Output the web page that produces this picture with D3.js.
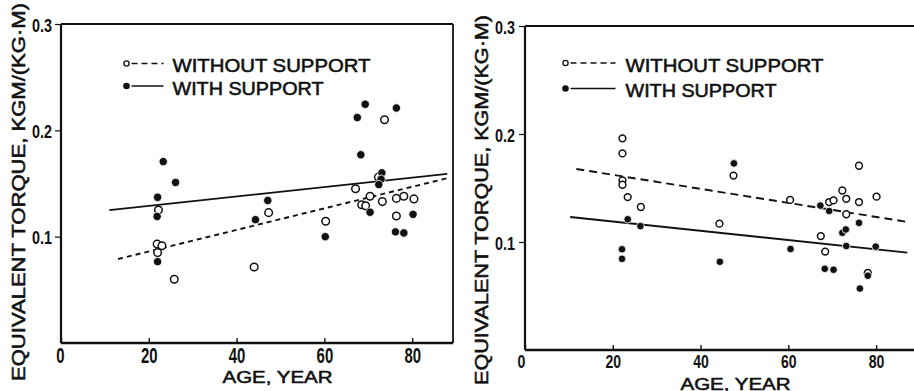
<!DOCTYPE html>
<html>
<head>
<meta charset="utf-8">
<script src="https://cdn.jsdelivr.net/npm/d3@7/dist/d3.min.js"></script>
<style>
  html, body { margin: 0; padding: 0; background: #fff; }
  svg { display: block; }
</style>
</head>
<body>
<svg id="chart" width="914" height="391"></svg>
<script>
// Equivalent torque vs. age, with and without support (two panels)

// Panel A
const leftWithoutSupport = [
  [22.2, 0.125], [21.9, 0.093], [23.0, 0.0915], [22.0, 0.085], [25.8, 0.060],
  [47.3, 0.1226], [44.0, 0.0715], [60.3, 0.1145], [67.1, 0.145], [70.4, 0.138],
  [68.5, 0.130], [69.4, 0.129], [73.2, 0.133], [72.3, 0.156], [73.7, 0.210],
  [76.4, 0.136], [78.1, 0.138], [80.4, 0.1355], [76.4, 0.1195]
];
const leftWithSupport = [
  [22.0, 0.137], [21.9, 0.119], [22.0, 0.0765], [23.3, 0.1706], [26.1, 0.151],
  [47.1, 0.134], [44.3, 0.116], [60.2, 0.100], [67.5, 0.212], [69.3, 0.2245],
  [76.4, 0.221], [68.3, 0.177], [73.1, 0.160], [72.9, 0.154], [72.4, 0.149],
  [70.4, 0.123], [76.2, 0.1045], [78.1, 0.1035], [80.2, 0.121]
];
const leftFitWithout = [[13, 0.079], [88, 0.155]];
const leftFitWith = [[11, 0.125], [88, 0.159]];

// Panel B
const rightWithoutSupport = [
  [22.2, 0.196], [22.2, 0.182], [22.2, 0.157], [22.2, 0.153], [23.4, 0.1416],
  [26.4, 0.1324], [47.5, 0.1615], [44.3, 0.117], [60.4, 0.139], [69.3, 0.137],
  [70.3, 0.1385], [72.3, 0.1477], [73.2, 0.140], [76.1, 0.137], [80.1, 0.142],
  [76.1, 0.1706], [73.2, 0.1257], [67.4, 0.1055], [68.4, 0.0911], [78.1, 0.0713]
];
const rightWithSupport = [
  [23.4, 0.121], [26.3, 0.1147], [22.1, 0.0933], [22.1, 0.0844], [47.6, 0.1728],
  [44.4, 0.0817], [60.5, 0.0935], [67.3, 0.1337], [69.3, 0.1287], [76.1, 0.1177],
  [72.3, 0.1085], [73.1, 0.1116], [73.2, 0.0963], [79.9, 0.0957], [68.3, 0.0752],
  [70.3, 0.0743], [78.1, 0.0688], [76.3, 0.0569]
];
const rightFitWithout = [[11.7, 0.1676], [87.1, 0.1186]];
const rightFitWith = [[10.3, 0.1232], [87.1, 0.0902]];

const xTicks = [0, 20, 40, 60, 80];
const yTicks = [0.1, 0.2, 0.3];
const legendLabels = ["WITHOUT SUPPORT", "WITH SUPPORT"];
const xTitle = "AGE, YEAR";
const yTitle = "EQUIVALENT TORQUE, KGM/(KG\u00B7M)";

const INK = "#111";
const SANS = "'Liberation Sans', Arial, sans-serif";

const svg = d3.select("#chart");

// heavy-ish lettering
function ink(sel, size, weight, bold) {
  sel.style("font-family", SANS).style("font-size", size + "px")
    .style("font-weight", bold ? "bold" : "normal")
    .style("fill", INK).style("stroke", INK).style("stroke-width", weight)
    .style("paint-order", "stroke");
  return sel;
}

function drawPanel(o) {
  const g = svg.append("g");
  const x = d3.scaleLinear().domain([0, o.xMax]).range([o.left, o.right]);
  const y = d3.scaleLinear().domain([0, 0.3]).range([o.bottom, o.top]);
  const xEnd = Math.min(o.right, 914);

  // frame
  g.append("line").attr("x1", o.left).attr("x2", xEnd).attr("y1", o.top).attr("y2", o.top)
    .attr("stroke", INK).attr("stroke-width", 2);
  if (o.closed) {
    g.append("line").attr("x1", o.right).attr("x2", o.right).attr("y1", o.top).attr("y2", o.bottom)
      .attr("stroke", INK).attr("stroke-width", 1.8);
  }

  // x axis (ticks point inward)
  const xa = g.append("g").attr("transform", `translate(0,${o.bottom})`)
    .call(d3.axisBottom(x).tickValues(xTicks).tickSizeInner(-5).tickSizeOuter(0).tickPadding(o.xPad)
      .tickFormat(d3.format("d")));
  xa.select(".domain").attr("stroke", INK).attr("stroke-width", 2.6)
    .attr("d", `M${o.left},0H${xEnd}`);
  xa.selectAll(".tick line").attr("stroke", INK).attr("stroke-width", 1.4);
  ink(xa.selectAll(".tick text"), o.xFont, 0, true)
    .attr("textLength", d => String(d).length * o.digitW)
    .attr("lengthAdjust", "spacingAndGlyphs")
    .attr("dx", d => d === 0 ? o.zeroDx : 0);

  // y axis
  const ya = g.append("g").attr("transform", `translate(${o.left},0)`)
    .call(d3.axisLeft(y).tickValues(yTicks).tickSizeInner(6).tickSizeOuter(0).tickPadding(o.yPad)
      .tickFormat(d3.format(".1f")));
  ya.select(".domain").attr("stroke", INK).attr("stroke-width", 2.2)
    .attr("d", `M0,${o.bottom}V${o.top}`);
  ya.selectAll(".tick line").attr("stroke", INK).attr("stroke-width", 1.2);
  ink(ya.selectAll(".tick text"), 18, 0, true)
    .attr("textLength", 20).attr("lengthAdjust", "spacingAndGlyphs")
    .attr("dy", "0.4em");

  // fit lines
  const line = d3.line().x(d => x(d[0])).y(d => y(d[1]));
  g.append("path").datum(o.fitWithout).attr("d", line).attr("fill", "none")
    .attr("stroke", INK).attr("stroke-width", 1.9).attr("stroke-dasharray", o.dash);
  g.append("path").datum(o.fitWith).attr("d", line).attr("fill", "none")
    .attr("stroke", INK).attr("stroke-width", 1.9);

  // points
  g.append("g").selectAll("circle").data(o.without).join("circle")
    .attr("cx", d => x(d[0])).attr("cy", d => y(d[1])).attr("r", o.r)
    .attr("fill", "#fff").attr("stroke", INK).attr("stroke-width", 1.5);
  g.append("g").selectAll("circle").data(o.withS).join("circle")
    .attr("cx", d => x(d[0])).attr("cy", d => y(d[1])).attr("r", o.r + 0.4)
    .attr("fill", INK).attr("stroke", "#fff").attr("stroke-width", 0.8);

  // legend
  const lg = g.append("g");
  lg.append("circle").attr("cx", o.legX).attr("cy", o.legY1).attr("r", 2.6)
    .attr("fill", "#fff").attr("stroke", INK).attr("stroke-width", 1.3);
  lg.append("line").attr("x1", o.legX + 5).attr("x2", o.legX + o.legLine).attr("y1", o.legY1).attr("y2", o.legY1)
    .attr("stroke", INK).attr("stroke-width", 1.7).attr("stroke-dasharray", "6,4");
  lg.append("circle").attr("cx", o.legX).attr("cy", o.legY2).attr("r", 3.3).attr("fill", INK);
  lg.append("line").attr("x1", o.legX + 5).attr("x2", o.legX + o.legLine).attr("y1", o.legY2).attr("y2", o.legY2)
    .attr("stroke", INK).attr("stroke-width", 1.7);
  ink(lg.append("text"), 18.5, 0.55).attr("x", o.legTextX).attr("y", o.legY1 + 8.5)
    .attr("textLength", 198).attr("lengthAdjust", "spacingAndGlyphs").text(legendLabels[0]);
  ink(lg.append("text"), 18.5, 0.55).attr("x", o.legTextX).attr("y", o.legY2 + 8.5)
    .attr("textLength", 151).attr("lengthAdjust", "spacingAndGlyphs").text(legendLabels[1]);

  // titles
  ink(g.append("text"), 16.5, 0.55).attr("x", o.xTitleX).attr("y", o.xTitleY)
    .attr("text-anchor", "middle")
    .attr("textLength", 110).attr("lengthAdjust", "spacingAndGlyphs")
    .text(xTitle);
  ink(g.append("text"), 18, 0.55)
    .attr("transform", `translate(${o.yTitleX},${o.yTitleY}) rotate(-90)`)
    .attr("text-anchor", "middle")
    .attr("textLength", o.yTitleLen).attr("lengthAdjust", "spacingAndGlyphs")
    .text(yTitle);
}

drawPanel({
  left: 61, right: 453, top: 24, bottom: 343, xMax: 89.3, closed: true,
  xPad: 5, xFont: 21.5, digitW: 8.3, yPad: 3, zeroDx: -1, dash: "5,4", r: 3.8,
  without: leftWithoutSupport, withS: leftWithSupport,
  fitWithout: leftFitWithout, fitWith: leftFitWith,
  legX: 126.5, legY1: 63.5, legY2: 86, legLine: 37, legTextX: 172.5,
  xTitleX: 277.5, xTitleY: 383, yTitleX: 25, yTitleY: 192, yTitleLen: 378
});

drawPanel({
  left: 525, right: 920, top: 26, bottom: 350, xMax: 90, closed: false,
  xPad: 5, xFont: 19, digitW: 7.8, yPad: 4, zeroDx: -4, dash: "8,5", r: 3.4,
  without: rightWithoutSupport, withS: rightWithSupport,
  fitWithout: rightFitWithout, fitWith: rightFitWith,
  legX: 565.5, legY1: 63, legY2: 88.5, legLine: 50, legTextX: 625.5,
  xTitleX: 735.5, xTitleY: 389.5, yTitleX: 488, yTitleY: 200, yTitleLen: 370
});
</script>
</body>
</html>
